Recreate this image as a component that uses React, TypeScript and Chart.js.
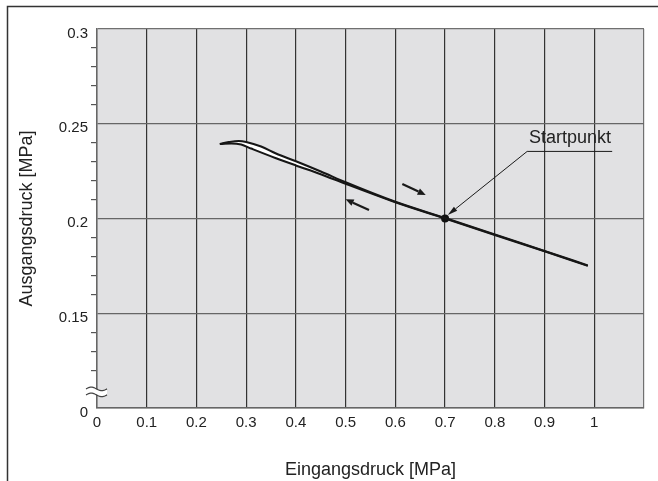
import React, { useEffect, useRef } from 'react';
import { Chart, registerables } from 'chart.js';

Chart.register(...registerables);

// ---------- data ----------
// branch measured while the inlet pressure falls (upper trace)
const upperX = [0.247, 0.265, 0.285, 0.3, 0.33, 0.36, 0.4, 0.45, 0.5, 0.6, 0.7, 0.8, 0.9, 0.987];
const upperY = [0.2393, 0.2403, 0.2409, 0.2404, 0.238, 0.2343, 0.2302, 0.2248, 0.2191, 0.2088, 0.2002, 0.1915, 0.1829, 0.1752];
// branch measured while the inlet pressure rises (lower trace)
const lowerX = [0.247, 0.27, 0.29, 0.31, 0.36, 0.4, 0.45, 0.5, 0.6, 0.7, 0.8, 0.9, 0.987];
const lowerY = [0.2393, 0.2396, 0.239, 0.2369, 0.2318, 0.228, 0.2234, 0.2183, 0.2086, 0.2, 0.1913, 0.1827, 0.175];

const startX = [0.7];
const startY = [0.2];
const startLabel = 'Startpunkt';

// tick labels
const xTickValues = [0, 0.1, 0.2, 0.3, 0.4, 0.5, 0.6, 0.7, 0.8, 0.9, 1, 1.1];
const xTickLabels = ['0', '0.1', '0.2', '0.3', '0.4', '0.5', '0.6', '0.7', '0.8', '0.9', '1', ''];
const yTickValues = [0.1, 0.12, 0.13, 0.14, 0.15, 0.16, 0.17, 0.18, 0.19, 0.2, 0.21, 0.22, 0.23, 0.24, 0.25, 0.26, 0.27, 0.28, 0.29, 0.3];
const yLabelValues = [0.1, 0.15, 0.2, 0.25, 0.3];
const yLabelTexts = ['0', '0.15', '0.2', '0.25', '0.3'];

const xTitle = 'Eingangsdruck [MPa]';
const yTitle = 'Ausgangsdruck [MPa]';

// annotation anchors (data coordinates)
const arrowDown = [0.614, 0.2182, 0.661, 0.2124]; // tail x,y -> tip x,y
const arrowUp = [0.547, 0.2045, 0.5, 0.2101];
const leaderEnd = [1.036, 0.2354];
const leaderKnee = [0.865, 0.2354];
const leaderTip = [0.7054, 0.2018];
const labelAnchor = [0.951, 0.2397];
const breakValue = 0.1085;

const FONT = "'Liberation Sans', Arial, Helvetica, sans-serif";
const near = (a: number, b: number) => Math.abs(a - b) < 1e-6;

function drawArrow(ctx: CanvasRenderingContext2D, x0: number, y0: number, x1: number, y1: number, headLen: number, headW: number, lw: number) {
  const ang = Math.atan2(y1 - y0, x1 - x0);
  const bx = x1 - headLen * Math.cos(ang);
  const by = y1 - headLen * Math.sin(ang);
  ctx.beginPath();
  ctx.lineWidth = lw;
  ctx.moveTo(x0, y0);
  ctx.lineTo(bx, by);
  ctx.stroke();
  ctx.beginPath();
  ctx.moveTo(x1, y1);
  ctx.lineTo(bx + headW * Math.sin(ang), by - headW * Math.cos(ang));
  ctx.lineTo(bx - headW * Math.sin(ang), by + headW * Math.cos(ang));
  ctx.closePath();
  ctx.fill();
}

const decorPlugin = {
  id: 'decor',
  beforeDraw(chart: any) {
    const { ctx, chartArea } = chart;
    ctx.save();
    ctx.fillStyle = '#e1e1e3';
    ctx.fillRect(chartArea.left, chartArea.top, chartArea.right - chartArea.left, chartArea.bottom - chartArea.top);
    ctx.strokeStyle = '#333';
    ctx.lineWidth = 1.5;
    ctx.beginPath();
    ctx.moveTo(7.5, chart.height);
    ctx.lineTo(7.5, 6.5);
    ctx.lineTo(chart.width, 6.5);
    ctx.stroke();
    ctx.restore();
  },
  afterDraw(chart: any) {
    const { ctx, chartArea } = chart;
    const x = chart.scales.x;
    const y = chart.scales.y;
    const px = (v: number) => x.getPixelForValue(v);
    const py = (v: number) => y.getPixelForValue(v);
    ctx.save();
    ctx.strokeStyle = '#1a1a1a';
    ctx.fillStyle = '#1a1a1a';
    ctx.lineCap = 'butt';
    drawArrow(ctx, px(arrowDown[0]), py(arrowDown[1]), px(arrowDown[2]), py(arrowDown[3]), 8, 3.5, 2.2);
    drawArrow(ctx, px(arrowUp[0]), py(arrowUp[1]), px(arrowUp[2]), py(arrowUp[3]), 8, 3.5, 2.2);

    // leader to start point
    ctx.lineWidth = 1;
    ctx.beginPath();
    ctx.moveTo(px(leaderEnd[0]), py(leaderEnd[1]));
    ctx.lineTo(px(leaderKnee[0]), py(leaderKnee[1]));
    ctx.stroke();
    drawArrow(ctx, px(leaderKnee[0]), py(leaderKnee[1]), px(leaderTip[0]), py(leaderTip[1]), 10, 2.6, 1);

    ctx.font = `18px ${FONT}`;
    ctx.fillStyle = '#222';
    ctx.textAlign = 'center';
    ctx.textBaseline = 'alphabetic';
    ctx.fillText(startLabel, px(labelAnchor[0]), py(labelAnchor[1]));

    // axis break symbol
    const yc = py(breakValue);
    const x0 = chartArea.left - 11;
    const w = 21;
    const amp = 1.8;
    const tilde = (off: number, forward: boolean) => {
      const n = 24;
      for (let i = 0; i <= n; i++) {
        const t = forward ? i / n : 1 - i / n;
        const xx = x0 + t * w;
        const yy = yc + off - amp * Math.sin(2 * Math.PI * t);
        if (i === 0 && forward) ctx.moveTo(xx, yy);
        else ctx.lineTo(xx, yy);
      }
    };
    ctx.fillStyle = '#ffffff';
    ctx.beginPath();
    tilde(-3, true);
    tilde(3, false);
    ctx.closePath();
    ctx.fill();
    ctx.strokeStyle = '#444';
    ctx.lineWidth = 1.2;
    ctx.beginPath();
    tilde(-3, true);
    ctx.stroke();
    ctx.beginPath();
    tilde(3, true);
    ctx.stroke();
    ctx.restore();
  },
};

export default function App() {
  const ref = useRef<HTMLCanvasElement>(null);
  useEffect(() => {
    if (!ref.current) return;
    Chart.defaults.font.family = FONT;
    const chart = new Chart(ref.current, {
      type: 'line',
      data: {
        datasets: [
          {
            label: 'upper',
            data: upperX.map((v, i) => ({ x: v, y: upperY[i] })),
            borderColor: '#161616',
            borderWidth: 2.1,
            pointRadius: 0,
            cubicInterpolationMode: 'monotone',
            fill: false,
          },
          {
            label: 'lower',
            data: lowerX.map((v, i) => ({ x: v, y: lowerY[i] })),
            borderColor: '#161616',
            backgroundColor: '#ffffff',
            borderWidth: 2.1,
            pointRadius: 0,
            cubicInterpolationMode: 'monotone',
            fill: '-1',
          },
          {
            label: 'start',
            data: startX.map((v, i) => ({ x: v, y: startY[i] })),
            showLine: false,
            pointRadius: 4,
            pointBackgroundColor: '#111',
            pointBorderWidth: 0,
          },
        ],
      },
      options: {
        responsive: false,
        animation: false,
        devicePixelRatio: 1,
        layout: { padding: { left: 0, right: 14, top: 29, bottom: 0 } },
        plugins: {
          legend: { display: false },
          tooltip: { enabled: false },
          filler: { drawTime: 'beforeDatasetsDraw' },
        },
        scales: {
          x: {
            type: 'linear',
            min: 0,
            max: 1.1,
            afterBuildTicks: (s: any) => {
              s.ticks = xTickValues.map((v) => ({ value: v }));
            },
            afterFit: (s: any) => {
              s.height = 73;
            },
            grid: {
              color: (c: any) => (near(c.tick.value, 1.1) || near(c.tick.value, 0) ? '#707070' : '#333'),
              lineWidth: 1.2,
              drawTicks: false,
            },
            border: { color: '#666', width: 1.5 },
            ticks: {
              autoSkip: false,
              maxRotation: 0,
              padding: 6,
              color: '#222',
              font: { size: 15 },
              callback: (v: any) => {
                const i = xTickValues.findIndex((t) => near(t, v));
                return i >= 0 ? xTickLabels[i] : '';
              },
            },
            title: { display: true, text: xTitle, color: '#222', font: { size: 18 }, padding: { top: 0, bottom: 0 } },
          },
          y: {
            type: 'linear',
            min: 0.1,
            max: 0.3,
            afterBuildTicks: (s: any) => {
              s.ticks = yTickValues.map((v) => ({ value: v }));
            },
            afterFit: (s: any) => {
              s.width = 97;
            },
            grid: {
              color: (c: any) => {
                const v = c.tick.value;
                if (near(v, 0.3) || near(v, 0.1)) return '#707070';
                return yLabelValues.some((t) => near(t, v)) ? '#666' : 'rgba(0,0,0,0)';
              },
              tickColor: (c: any) => (yLabelValues.some((t) => near(t, c.tick.value)) ? 'rgba(0,0,0,0)' : '#555'),
              tickLength: 6,
              lineWidth: 1.2,
            },
            border: { color: '#666', width: 1.5 },
            ticks: {
              autoSkip: false,
              padding: 3,
              labelOffset: 4.5,
              color: '#222',
              font: { size: 15 },
              callback: (v: any) => {
                const i = yLabelValues.findIndex((t) => near(t, v));
                return i >= 0 ? yLabelTexts[i] : '';
              },
            },
            title: { display: true, text: yTitle, color: '#222', font: { size: 18 }, padding: { top: 16, bottom: 0 } },
          },
        },
      },
      plugins: [decorPlugin],
    } as any);
    return () => chart.destroy();
  }, []);
  return (
    <div style={{ position: 'absolute', left: 0, top: 0, width: 658, height: 481, background: '#fff' }}>
      <canvas ref={ref} width={658} height={481} style={{ display: 'block' }} />
    </div>
  );
}
